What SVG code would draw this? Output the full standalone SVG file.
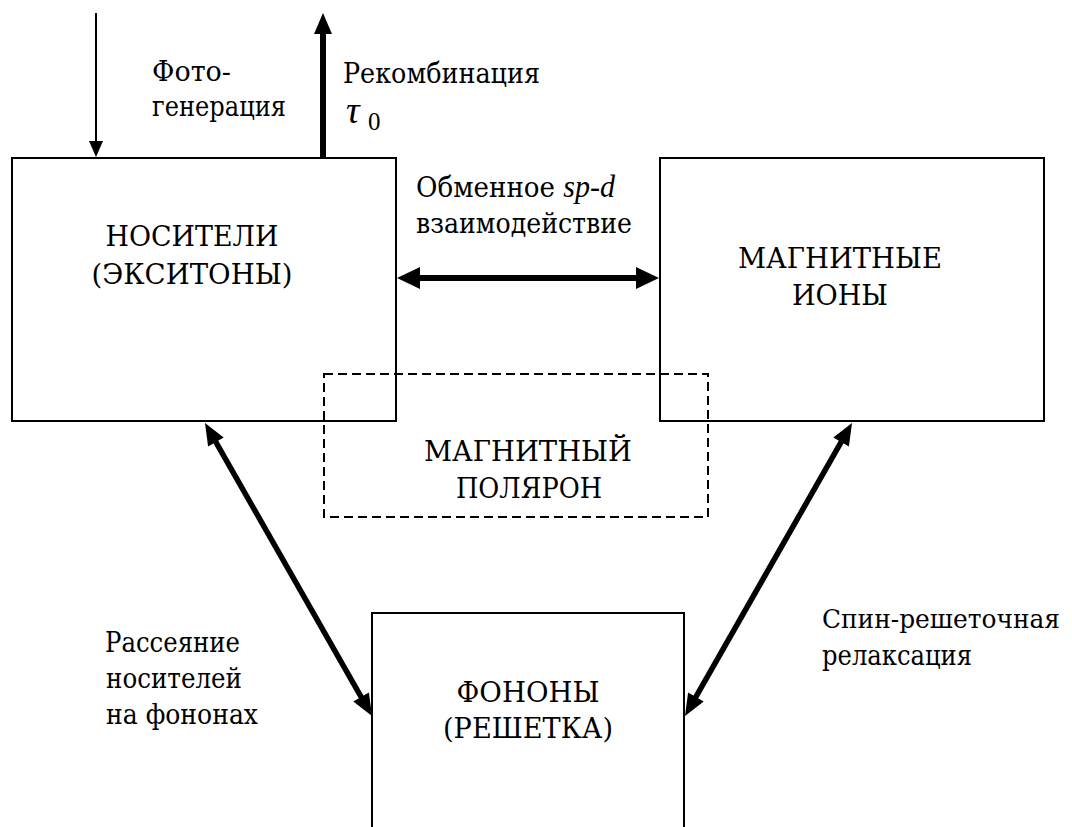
<svg xmlns="http://www.w3.org/2000/svg" width="1072" height="827" viewBox="0 0 1072 827">
<defs>
<style>
.box{fill:none;stroke:#000;stroke-width:2}
.dash{fill:none;stroke:#000;stroke-width:2;stroke-dasharray:9 5}
.c{text-anchor:middle}
.ln{stroke:#000;fill:none}
.hd{fill:#000;stroke:none}
</style>
</defs>
<rect width="1072" height="827" fill="#fff"/>
<g id="connectors">
<line class="ln" x1="96" y1="13" x2="96" y2="143" stroke-width="2"/>
<polygon class="hd" points="96,157 89,141 103,141"/>
<line class="ln" x1="323" y1="157" x2="323" y2="32" stroke-width="6"/>
<polygon class="hd" points="323,13 314,34 332,34"/>
<line class="ln" x1="418" y1="278" x2="638" y2="278" stroke-width="6"/>
<polygon class="hd" points="397,278 420,267 420,289"/>
<polygon class="hd" points="659,278 636,267 636,289"/>
<line class="ln" x1="214.9" y1="440.4" x2="362.1" y2="698.6" stroke-width="5.5"/>
<polygon class="hd" points="205,423 208.1,446.6 223.7,437.6"/>
<polygon class="hd" points="372,716 353.3,701.4 368.9,692.4"/>
<line class="ln" x1="842.1" y1="440.4" x2="694.9" y2="698.6" stroke-width="5.5"/>
<polygon class="hd" points="852,423 848.9,446.6 833.3,437.6"/>
<polygon class="hd" points="685,716 703.7,701.4 688.1,692.4"/>
</g>
<g font-family="DejaVu Serif, serif" font-size="27" fill="#000">
<g id="carriers">
<rect class="box" x="12" y="158" width="384" height="263"/>
<text class="c" x="192" y="246" textLength="173" lengthAdjust="spacingAndGlyphs">НОСИТЕЛИ</text>
<text class="c" x="192" y="284" textLength="201" lengthAdjust="spacingAndGlyphs">(ЭКСИТОНЫ)</text>
</g>
<g id="magnetic-ions">
<rect class="box" x="660" y="158" width="384" height="263"/>
<text class="c" x="840" y="268" textLength="204" lengthAdjust="spacingAndGlyphs">МАГНИТНЫЕ</text>
<text class="c" x="840" y="305" textLength="96" lengthAdjust="spacingAndGlyphs">ИОНЫ</text>
</g>
<g id="polaron">
<rect class="dash" x="324" y="374" width="384" height="143"/>
<text class="c" x="528" y="461" textLength="208" lengthAdjust="spacingAndGlyphs">МАГНИТНЫЙ</text>
<text class="c" x="529" y="498" textLength="146" lengthAdjust="spacingAndGlyphs">ПОЛЯРОН</text>
</g>
<g id="phonons">
<rect class="box" x="372" y="613" width="312" height="240"/>
<text class="c" x="528" y="702" textLength="143" lengthAdjust="spacingAndGlyphs">ФОНОНЫ</text>
<text class="c" x="528" y="738" textLength="170" lengthAdjust="spacingAndGlyphs">(РЕШЕТКА)</text>
</g>
<g id="labels">
<text x="152" y="81" textLength="79" lengthAdjust="spacingAndGlyphs">Фото-</text>
<text x="152" y="116" textLength="134" lengthAdjust="spacingAndGlyphs">генерация</text>
<text x="343" y="83" textLength="197" lengthAdjust="spacingAndGlyphs">Рекомбинация</text>
<text x="346" y="123" font-style="italic" font-size="38" font-family="Liberation Serif, DejaVu Serif, serif">τ</text>
<text x="368" y="130" font-size="25" font-family="Liberation Serif, DejaVu Serif, serif">0</text>
<text x="416" y="197" textLength="199" lengthAdjust="spacingAndGlyphs">Обменное <tspan font-style="italic" font-family="Liberation Serif, DejaVu Serif, serif" font-size="31">sp-d</tspan></text>
<text x="416" y="233" textLength="216" lengthAdjust="spacingAndGlyphs">взаимодействие</text>
<text x="105" y="652" textLength="135" lengthAdjust="spacingAndGlyphs">Рассеяние</text>
<text x="106" y="688" textLength="136" lengthAdjust="spacingAndGlyphs">носителей</text>
<text x="106" y="724" textLength="152" lengthAdjust="spacingAndGlyphs">на фононах</text>
<text x="822" y="628" font-size="25.5" textLength="238" lengthAdjust="spacingAndGlyphs">Спин-решеточная</text>
<text x="822" y="665" textLength="150" lengthAdjust="spacingAndGlyphs">релаксация</text>
</g>
</g>
</svg>
